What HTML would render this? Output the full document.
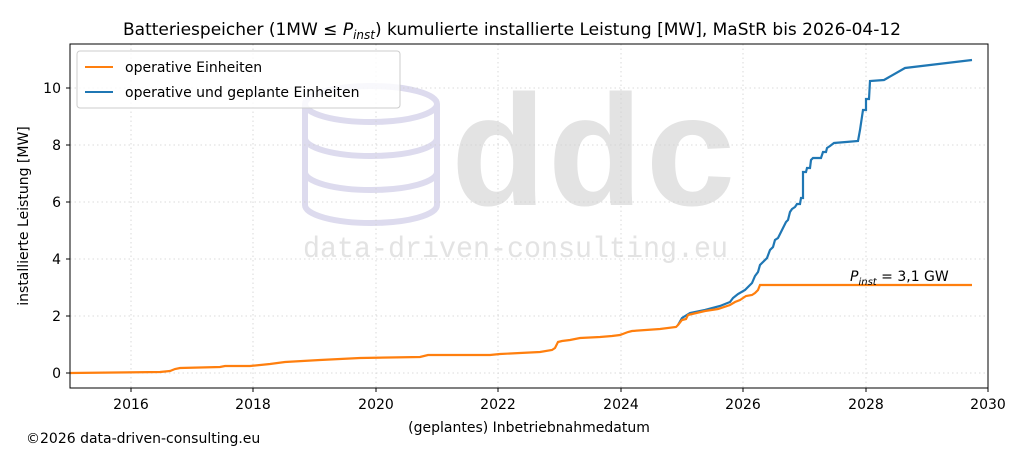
<!DOCTYPE html>
<html><head><meta charset="utf-8"><style>
body{margin:0;background:#fff;}
svg{display:block;font-family:"DejaVu Sans","Liberation Sans",sans-serif;}
</style></head><body>
<svg width="1024" height="455" viewBox="0 0 1024 455">
<rect width="1024" height="455" fill="#fff"/>
<!-- watermark -->
<g fill="none" stroke="#dddbee" stroke-width="6">
<ellipse cx="371" cy="104" rx="66" ry="18"/>
<path d="M305 104 V205 A66 18 0 0 0 437 205 V104"/>
<path d="M305 138 A66 18 0 0 0 437 138"/>
<path d="M305 172 A66 18 0 0 0 437 172"/>
</g>
<text x="450" y="205" font-family="Liberation Mono,monospace" font-weight="bold" font-size="158" fill="#e3e3e3" textLength="290" lengthAdjust="spacingAndGlyphs">ddc</text>
<text x="303" y="257" font-family="Liberation Mono,monospace" font-size="30" fill="#e3e3e3" textLength="425" lengthAdjust="spacingAndGlyphs">data-driven-consulting.eu</text>
<!-- grid -->
<g stroke="#d0d0d0" stroke-width="0.8" stroke-dasharray="1.5,3">
<line x1="131" y1="44" x2="131" y2="388"/><line x1="253" y1="44" x2="253" y2="388"/>
<line x1="376" y1="44" x2="376" y2="388"/><line x1="498" y1="44" x2="498" y2="388"/>
<line x1="621" y1="44" x2="621" y2="388"/><line x1="743" y1="44" x2="743" y2="388"/>
<line x1="866" y1="44" x2="866" y2="388"/>
<line x1="70" y1="373" x2="988" y2="373"/><line x1="70" y1="316" x2="988" y2="316"/>
<line x1="70" y1="259" x2="988" y2="259"/><line x1="70" y1="202" x2="988" y2="202"/>
<line x1="70" y1="145" x2="988" y2="145"/><line x1="70" y1="88" x2="988" y2="88"/>
</g>
<!-- series -->
<polyline fill="none" stroke="#1f77b4" stroke-width="2.2" points="678,325 682,318 690,313 705,310 720,306 730,302 733,298 738,294 745,290 750,285 752,283 755,276 758,272 760,265 763,262 767,258 770,250 773,247 775,240 778,238 781,232 783,228 786,222 788,220 790,212 792,209 795,207 797,204 800,204 801,198 803,198 803,172 806,172 807,168 810,168 811,160 813,158 821,158 823,152 826,152 827,148 830,146 834,143 846,142 858,141 860,130 863,110 866,110 866,99 869,99 870,81 884,80 905,68 972,60"/>
<polyline fill="none" stroke="#ff7f0e" stroke-width="2.2" points="70,373 160,372 170,371 175,369 180,368 220,367 225,366 250,366 270,364 285,362 320,360 340,359 360,358 420,357 428,355 490,355 500,354 520,353 540,352 552,350 555,348 558,342 562,341 570,340 580,338 600,337 612,336 620,335 628,332 632,331 660,329 676,327 678,325 682,320 686,319 688,315 692,314 705,311 718,309 730,305 735,302 740,300 746,296 752,295 755,293 758,290 760,285 972,285"/>
<!-- axes -->
<rect x="70" y="44" width="918" height="344" fill="none" stroke="#000" stroke-width="1"/>
<g stroke="#000" stroke-width="1">
<line x1="131" y1="388" x2="131" y2="392"/><line x1="253" y1="388" x2="253" y2="392"/>
<line x1="376" y1="388" x2="376" y2="392"/><line x1="498" y1="388" x2="498" y2="392"/>
<line x1="621" y1="388" x2="621" y2="392"/><line x1="743" y1="388" x2="743" y2="392"/>
<line x1="866" y1="388" x2="866" y2="392"/><line x1="988" y1="388" x2="988" y2="392"/>
<line x1="66" y1="373" x2="70" y2="373"/><line x1="66" y1="316" x2="70" y2="316"/>
<line x1="66" y1="259" x2="70" y2="259"/><line x1="66" y1="202" x2="70" y2="202"/>
<line x1="66" y1="145" x2="70" y2="145"/><line x1="66" y1="88" x2="70" y2="88"/>
</g>
<g font-size="14" fill="#000" text-anchor="middle">
<text x="131" y="409">2016</text><text x="253" y="409">2018</text><text x="376" y="409">2020</text>
<text x="498" y="409">2022</text><text x="621" y="409">2024</text><text x="743" y="409">2026</text>
<text x="866" y="409">2028</text><text x="988" y="409">2030</text>
</g>
<g font-size="14" fill="#000" text-anchor="end">
<text x="61" y="378">0</text><text x="61" y="321">2</text><text x="61" y="264">4</text>
<text x="61" y="207">6</text><text x="61" y="150">8</text><text x="61" y="93">10</text>
</g>
<text x="529" y="432" font-size="14" text-anchor="middle">(geplantes) Inbetriebnahmedatum</text>
<text transform="translate(28,216) rotate(-90)" font-size="14" text-anchor="middle">installierte Leistung [MW]</text>
<text x="512" y="35" font-size="17" text-anchor="middle">Batteriespeicher (1MW ≤ <tspan font-style="italic">P</tspan><tspan font-style="italic" font-size="12" dy="4">inst</tspan><tspan dy="-4">) kumulierte installierte Leistung [MW], MaStR bis 2026-04-12</tspan></text>
<text x="850" y="281" font-size="14"><tspan font-style="italic">P</tspan><tspan font-style="italic" font-size="10" dy="4">inst</tspan><tspan dy="-4"> = 3,1 GW</tspan></text>
<text x="26" y="443" font-size="14">©2026 data-driven-consulting.eu</text>
<!-- legend -->
<rect x="77" y="51" width="323" height="57" rx="3" fill="#fff" fill-opacity="0.8" stroke="#ccc"/>
<line x1="85" y1="67" x2="113" y2="67" stroke="#ff7f0e" stroke-width="2"/>
<line x1="85" y1="92" x2="113" y2="92" stroke="#1f77b4" stroke-width="2"/>
<text x="125" y="72" font-size="14">operative Einheiten</text>
<text x="125" y="97" font-size="14">operative und geplante Einheiten</text>
</svg>
</body></html>
